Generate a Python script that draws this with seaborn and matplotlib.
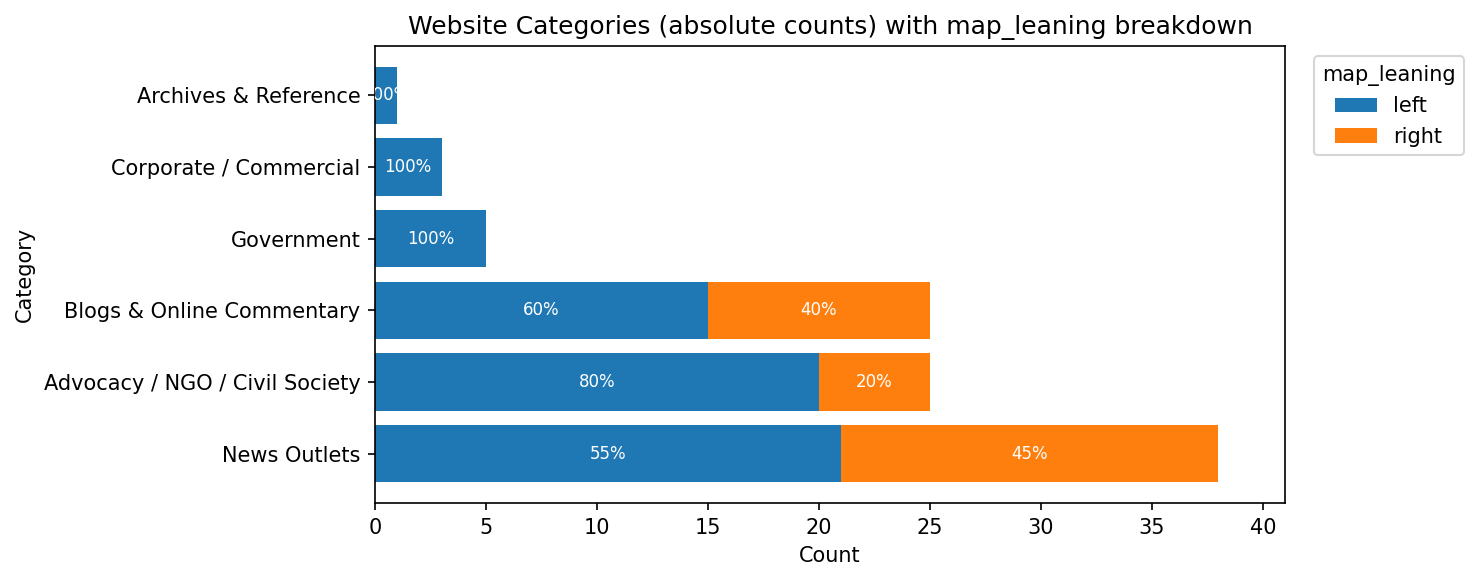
import numpy as np
import pandas as pd
import matplotlib
matplotlib.use('Agg')
import matplotlib.pyplot as plt
import seaborn as sns

plt.rcParams['font.family'] = ['DejaVu Sans']

# Data (top to bottom as shown)
categories = ['Archives & Reference', 'Corporate / Commercial', 'Government',
              'Blogs & Online Commentary', 'Advocacy / NGO / Civil Society', 'News Outlets']
left_counts = [1, 3, 5, 15, 20, 21]
right_counts = [0, 0, 0, 10, 5, 17]

df = pd.DataFrame({'category': categories, 'left': left_counts, 'right': right_counts})
df['total'] = df['left'] + df['right']

fig, ax = plt.subplots(figsize=(1479 / 150, 581 / 150), dpi=150)
fig.subplots_adjust(left=0.2535, right=0.8688, top=0.9208, bottom=0.1343)

blue = '#1f77b4'
orange = '#ff7f0e'

# Stacked bars: total in orange, left portion in blue on top
sns.barplot(data=df, x='total', y='category', order=categories, color=orange,
            saturation=1, width=0.8, label='right', ax=ax, linewidth=0)
sns.barplot(data=df, x='left', y='category', order=categories, color=blue,
            saturation=1, width=0.8, label='left', ax=ax, linewidth=0)

# Percentage labels inside segments
for i, row in df.iterrows():
    tot = row['total']
    if row['left'] > 0:
        ax.text(row['left'] / 2, i, f"{row['left'] / tot * 100:.0f}%",
                ha='center', va='center', color='white', fontsize=8, clip_on=True)
    if row['right'] > 0:
        ax.text(row['left'] + row['right'] / 2, i, f"{row['right'] / tot * 100:.0f}%",
                ha='center', va='center', color='white', fontsize=8, clip_on=True)

ax.set_xlim(0, 41)
ax.set_ylim(5.69, -0.69)
ax.set_xticks(np.arange(0, 45, 5))
ax.set_title('Website Categories (absolute counts) with map_leaning breakdown', fontsize=12)
ax.set_xlabel('Count')
ax.set_ylabel('Category')

handles, labels = ax.get_legend_handles_labels()
order = [labels.index('left'), labels.index('right')]
ax.legend([handles[k] for k in order], [labels[k] for k in order], title='map_leaning',
          loc='upper left', bbox_to_anchor=(1.02, 1))

fig.savefig('out.png', dpi=150)
